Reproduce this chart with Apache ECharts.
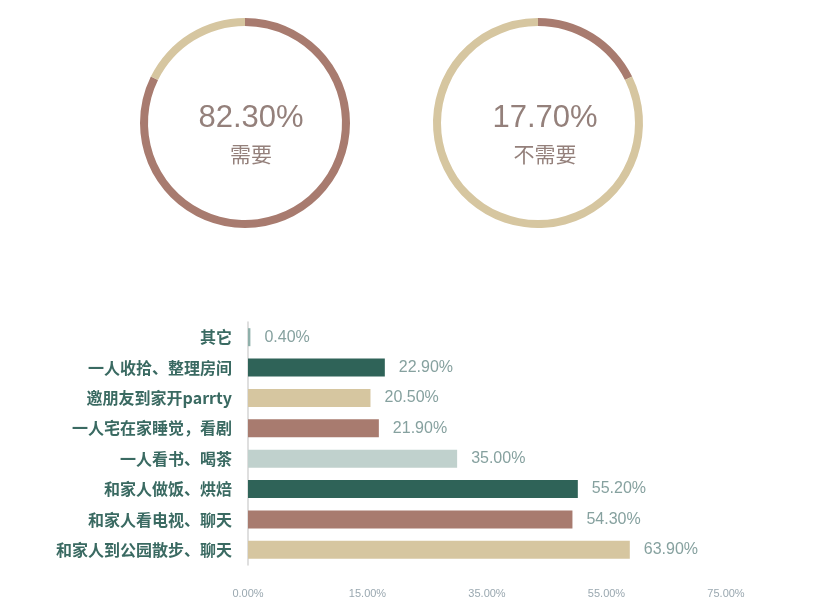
<!DOCTYPE html>
<html>
<head>
<meta charset="utf-8">
<script src="https://cdn.jsdelivr.net/npm/echarts@6/dist/echarts.min.js"></script>
<style>
  html, body { margin: 0; padding: 0; background: #fff; }
  #main { width: 814px; height: 614px; }
</style>
</head>
<body>
<div id="main"></div>
<script>
// ring data
var needShare = [82.3, 17.7];
var needNames = ['需要', '不需要'];

// bar data (top to bottom)
var activities = [
  '其它',
  '一人收拾、整理房间',
  '邀朋友到家开parrty',
  '一人宅在家睡觉，看剧',
  '一人看书、喝茶',
  '和家人做饭、烘焙',
  '和家人看电视、聊天',
  '和家人到公园散步、聊天'
];
var activityShare = [0.4, 22.9, 20.5, 21.9, 35.0, 55.2, 54.3, 63.9];
var tickLabels = ['0.00%', '15.00%', '35.00%', '55.00%', '75.00%'];

var brown = '#a87b6f';
var beige = '#d6c6a0';
var green = '#2f6358';
var pale = '#c0d1cd';
var barColors = ['#8fb0aa', green, beige, brown, pale, green, brown, beige];

var chartDom = document.getElementById('main');
var myChart = echarts.init(chartDom);
var option;

var font = '"Noto Sans CJK SC", "Noto Sans", sans-serif';
var latin = '"Liberation Sans", Arial, sans-serif';

function ring(center, value, rest) {
  return {
    type: 'pie',
    center: center,
    radius: [97, 105],
    startAngle: 90,
    clockwise: true,
    silent: true,
    label: { show: false },
    labelLine: { show: false },
    itemStyle: { borderWidth: 0 },
    data: [
      { value: value, itemStyle: { color: brown } },
      { value: rest, itemStyle: { color: beige } }
    ]
  };
}

function centerTitle(x, i) {
  return {
    text: needShare[i].toFixed(2) + '%',
    subtext: needNames[i],
    left: x, top: 98, textAlign: 'center', itemGap: 10,
    textStyle: { color: '#94807b', fontSize: 31, fontWeight: 'normal', fontFamily: latin },
    subtextStyle: { color: '#94807b', fontSize: 21, fontFamily: font }
  };
}

option = {
  animation: false,
  textStyle: { fontFamily: font },
  title: [centerTitle(246, 0), centerTitle(540, 1)],
  grid: { left: 248, top: 322, width: 478, height: 243, containLabel: false },
  xAxis: {
    type: 'value',
    min: 0, max: 80, interval: 20,
    splitLine: { show: false },
    axisLine: { show: false },
    axisTick: { show: false },
    axisLabel: {
      color: '#9aa8b0', fontSize: 11, margin: 23, fontFamily: latin,
      formatter: function (v) { return tickLabels[Math.round(v / 20)] || ''; }
    }
  },
  yAxis: {
    type: 'category',
    inverse: true,
    data: activities,
    axisLine: { show: true, lineStyle: { color: '#d4d4d4', width: 1.5 } },
    axisTick: { show: false },
    axisLabel: { color: '#3a6a62', fontSize: 16, fontWeight: 'bold', margin: 16, fontFamily: font }
  },
  series: [
    ring([245, 123], needShare[0], needShare[1]),
    ring([538, 123], needShare[1], needShare[0]),
    {
      type: 'bar',
      barWidth: 18,
      silent: true,
      data: activityShare.map(function (v, i) {
        return { value: v, itemStyle: { color: barColors[i] } };
      }),
      label: {
        show: true,
        position: 'right',
        distance: 14,
        color: '#86a19f',
        fontSize: 16,
        fontFamily: latin,
        formatter: function (p) { return p.value.toFixed(2) + '%'; }
      }
    }
  ]
};

option && myChart.setOption(option);
</script>
</body>
</html>
